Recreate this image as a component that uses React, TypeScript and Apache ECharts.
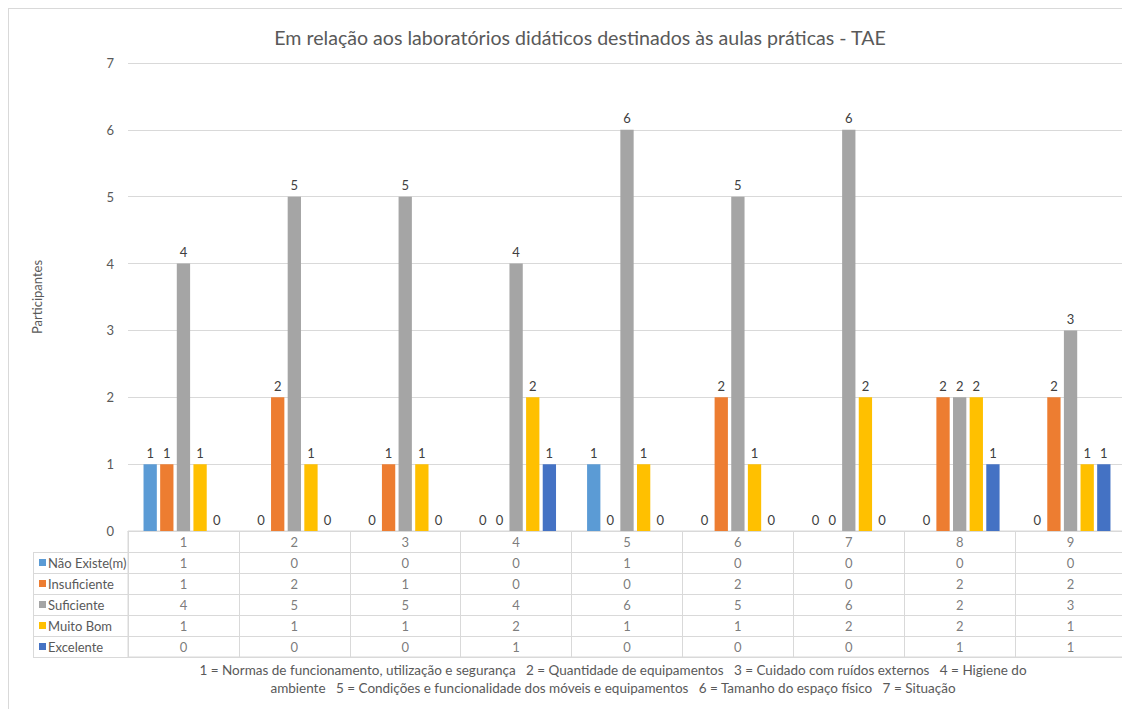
import React, { useEffect, useRef } from "react";
import * as echarts from "echarts";

const categories = ["1", "2", "3", "4", "5", "6", "7", "8", "9"];
const seriesNames = ["Não Existe(m)", "Insuficiente", "Suficiente", "Muito Bom", "Excelente"];
const naoExiste = [1, 0, 0, 0, 1, 0, 0, 0, 0];
const insuficiente = [1, 2, 1, 0, 0, 2, 0, 2, 2];
const suficiente = [4, 5, 5, 4, 6, 5, 6, 2, 3];
const muitoBom = [1, 1, 1, 2, 1, 1, 2, 2, 1];
const excelente = [0, 0, 0, 1, 0, 0, 0, 1, 1];
const colors = ["#5B9BD5", "#ED7D31", "#A5A5A5", "#FFC000", "#4472C4"];
const titleText = "Em relação aos laboratórios didáticos destinados às aulas práticas - TAE";
const yAxisName = "Participantes";
const footLine1 =
  "1 = Normas de funcionamento, utilização e segurança\u00a0\u00a0\u00a02 = Quantidade de equipamentos\u00a0\u00a0\u00a03 = Cuidado com ruídos externos\u00a0\u00a0\u00a04 = Higiene do";
const footLine2 =
  "ambiente\u00a0\u00a0\u00a05 = Condições e funcionalidade dos móveis e equipamentos\u00a0\u00a0\u00a06 = Tamanho do espaço físico\u00a0\u00a0\u00a07 = Situação";

const FONT = "Lato";
const TEXT = "#595959";
const LINE = "#D9D9D9";

export default function App() {
  const ref = useRef<HTMLDivElement>(null);
  useEffect(() => {
    if (!ref.current) return;
    const chart = echarts.init(ref.current, undefined, { renderer: "svg" });
    const allData = [naoExiste, insuficiente, suficiente, muitoBom, excelente];
    const gLeft = 120;
    const gRight = 4;
    const tTop = 523;
    const tHeight = 126;
    const rowH = tHeight / 6;
    const tableRows = ["hdr", ...seriesNames];

    const rich: any = { t: { color: TEXT, fontSize: 13, fontFamily: FONT, padding: [0, 0, 0, 2] } };
    seriesNames.forEach((_, i) => {
      rich["m" + i] = { width: 7, height: 7, backgroundColor: colors[i] };
    });

    const barSeries = seriesNames.map((name, i) => ({
      name,
      type: "bar",
      xAxisIndex: 0,
      yAxisIndex: 0,
      data: allData[i],
      barGap: "25%",
      barCategoryGap: "28%",
      itemStyle: { color: colors[i] },
      label: {
        show: true,
        position: "top",
        distance: 5,
        color: "#404040",
        fontSize: 13,
        fontFamily: FONT,
      },
    }));

    const cellData: any[] = [];
    categories.forEach((c, ci) => {
      cellData.push([ci, "hdr", c]);
      seriesNames.forEach((s, si) => {
        cellData.push([ci, s, String(allData[si][ci])]);
      });
    });

    const legendLines: any[] = [];
    for (let k = 1; k <= 6; k++) {
      const y = Math.round(tTop + rowH * k) + 0.5;
      legendLines.push({
        type: "line",
        shape: { x1: 25, y1: y, x2: gLeft, y2: y },
        style: { stroke: LINE, lineWidth: 1 },
      });
    }
    legendLines.push({
      type: "line",
      shape: { x1: 25.5, y1: Math.round(tTop + rowH) + 0.5, x2: 25.5, y2: Math.round(tTop + tHeight) + 0.5 },
      style: { stroke: LINE, lineWidth: 1 },
    });

    chart.setOption({
      animation: false,
      title: {
        text: titleText,
        left: 567,
        top: 14,
        textAlign: "center",
        textStyle: { color: TEXT, fontSize: 19.6, fontWeight: "normal", fontFamily: FONT },
      },
      grid: [
        { left: gLeft, right: gRight, top: 55, height: 468 },
        {
          left: gLeft,
          right: gRight,
          top: tTop,
          height: tHeight,
          show: true,
          borderColor: LINE,
          borderWidth: 1,
        },
      ],
      xAxis: [
        {
          type: "category",
          gridIndex: 0,
          data: categories,
          axisLabel: { show: false },
          axisTick: { show: false },
          axisLine: { show: true, lineStyle: { color: LINE } },
        },
        {
          type: "category",
          gridIndex: 1,
          data: categories,
          axisLabel: { show: false },
          axisTick: { show: false },
          axisLine: { show: false },
          splitLine: { show: true, interval: 0, lineStyle: { color: LINE } },
        },
      ],
      yAxis: [
        {
          type: "value",
          gridIndex: 0,
          min: 0,
          max: 7,
          interval: 1,
          name: yAxisName,
          nameLocation: "middle",
          nameGap: 85,
          nameTextStyle: { color: TEXT, fontSize: 13, fontFamily: FONT },
          axisLabel: { color: TEXT, fontSize: 13, fontFamily: FONT, margin: 14 },
          axisLine: { show: false },
          axisTick: { show: false },
          splitLine: { lineStyle: { color: LINE } },
        },
        {
          type: "category",
          gridIndex: 1,
          data: tableRows,
          inverse: true,
          axisTick: { show: false },
          axisLine: { show: false },
          splitLine: { show: true, interval: 0, lineStyle: { color: LINE } },
          axisLabel: {
            align: "left",
            margin: 89,
            interval: 0,
            rich,
            formatter: (v: string) => {
              const i = seriesNames.indexOf(v);
              if (i < 0) return "";
              return "{m" + i + "|}{t|" + v + "}";
            },
          },
        },
      ],
      series: [
        ...barSeries,
        {
          type: "scatter",
          xAxisIndex: 1,
          yAxisIndex: 1,
          data: cellData,
          symbolSize: 1,
          itemStyle: { color: "rgba(0,0,0,0)" },
          silent: true,
          label: {
            show: true,
            position: "inside",
            color: TEXT,
            fontSize: 13,
            fontFamily: FONT,
            formatter: (p: any) => p.value[2],
          },
        },
      ],
      graphic: [
        {
          type: "line",
          shape: { x1: 0.5, y1: 0.5, x2: 0.5, y2: 701 },
          style: { stroke: LINE, lineWidth: 1 },
        },
        {
          type: "line",
          shape: { x1: 0, y1: 0.5, x2: 1122, y2: 0.5 },
          style: { stroke: LINE, lineWidth: 1 },
        },
        ...legendLines,
        {
          type: "text",
          x: 605,
          y: 662,
          style: {
            text: footLine1,
            fill: TEXT,
            fontSize: 13.5,
            fontFamily: FONT,
            textAlign: "center",
            textVerticalAlign: "middle",
          },
        },
        {
          type: "text",
          x: 605,
          y: 680,
          style: {
            text: footLine2,
            fill: TEXT,
            fontSize: 13.5,
            fontFamily: FONT,
            textAlign: "center",
            textVerticalAlign: "middle",
          },
        },
      ],
    });
    return () => chart.dispose();
  }, []);
  return <div ref={ref} style={{ width: 1122, height: 701 }} />;
}
